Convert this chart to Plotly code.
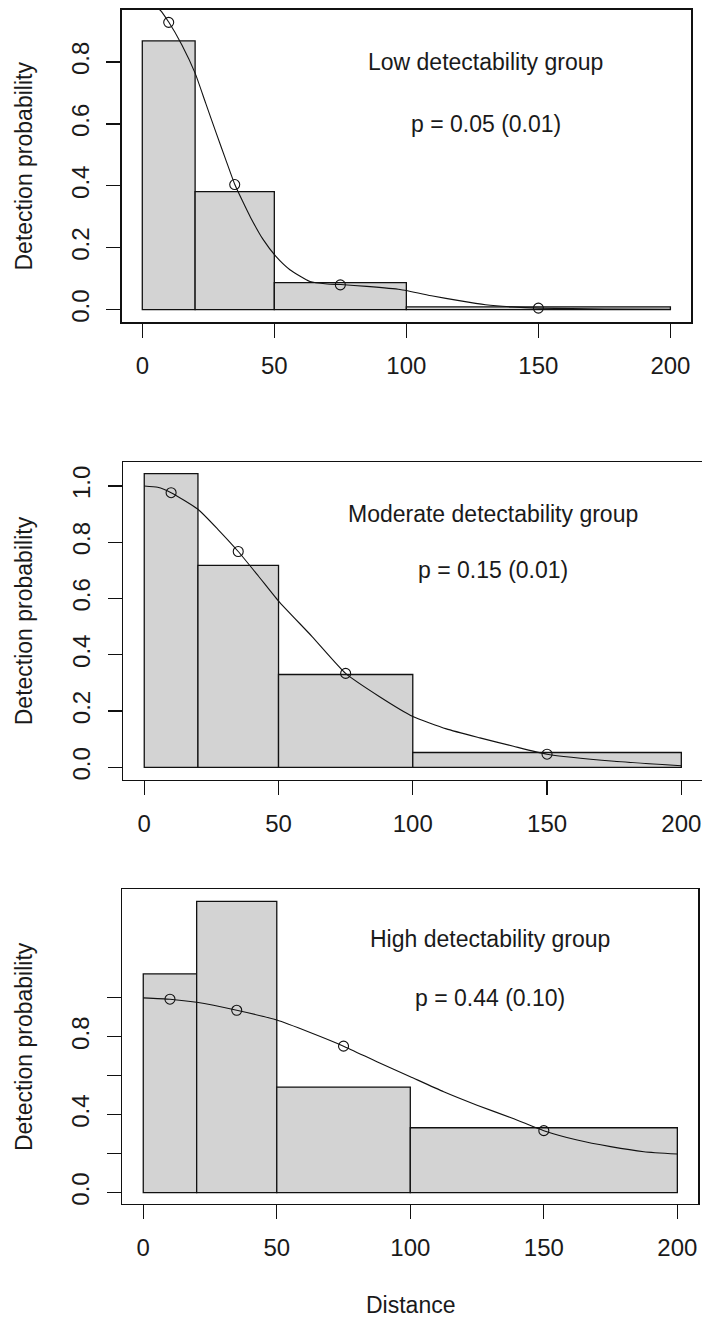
import plotly.graph_objects as go

# ---------------- data ----------------
bin_mid = [10, 35, 75, 150]
bin_width = [20, 30, 50, 100]
point_x = [10, 35, 75, 150]

low_bars = [0.868, 0.381, 0.087, 0.009]
low_points = [0.928, 0.404, 0.080, 0.005]
low_curve_x = [0, 6.7, 10, 15, 20, 24, 28, 31.5, 35, 38, 41, 45.8, 50.6, 55.9, 63.5, 70, 75.2, 85, 97.6, 110, 120, 130, 140, 150, 175, 200]
low_curve_y = [0.995, 0.968, 0.929, 0.855, 0.764, 0.667, 0.57, 0.487, 0.405, 0.35, 0.298, 0.226, 0.172, 0.129, 0.091, 0.083, 0.081, 0.075, 0.065, 0.044, 0.029, 0.016, 0.009, 0.005, 0.002, 0.001]

mod_bars = [1.044, 0.718, 0.330, 0.053]
mod_points = [0.976, 0.767, 0.334, 0.047]
mod_curve_x = [0, 5, 10, 20, 27.5, 35, 42.5, 50, 62.5, 75, 87.5, 100, 112.5, 125, 137.5, 150, 175, 200]
mod_curve_y = [1.0, 0.995, 0.976, 0.917, 0.845, 0.767, 0.68, 0.591, 0.465, 0.334, 0.252, 0.181, 0.137, 0.105, 0.075, 0.047, 0.022, 0.006]

high_bars = [1.123, 1.495, 0.542, 0.333]
high_points = [0.993, 0.936, 0.752, 0.318]
high_curve_x = [0, 10, 20, 35, 50, 62.5, 75, 87.5, 100, 112.5, 125, 137.5, 150, 162.5, 175, 187.5, 200]
high_curve_y = [1.0, 0.993, 0.977, 0.936, 0.886, 0.822, 0.752, 0.672, 0.595, 0.518, 0.449, 0.385, 0.318, 0.270, 0.236, 0.210, 0.198]

x_ticks = [0, 50, 100, 150, 200]
y_ticks_low = [0.0, 0.2, 0.4, 0.6, 0.8]
y_ticks_mod = [0.0, 0.2, 0.4, 0.6, 0.8, 1.0]
y_ticks_high = [0.0, 0.2, 0.4, 0.6, 0.8, 1.0]
y_text_high = ["0.0", "", "0.4", "", "0.8", ""]

titles = ["Low detectability group", "Moderate detectability group", "High detectability group"]
p_texts = ["p = 0.05 (0.01)", "p = 0.15 (0.01)", "p = 0.44 (0.10)"]
title_y = [0.8, 0.9, 1.3]
p_y = [0.6, 0.7, 1.0]
text_x = 130

# ---------------- layout geometry ----------------
W, H = 702, 1325
FONT = "Liberation Sans, Arial, sans-serif"
TXT = "#1a1a1a"

panels = [
    dict(bars=low_bars, pts=low_points, cx=low_curve_x, cy=low_curve_y,
         xdom=[121.7 / W, 691 / W], ydom=[1 - 322.5 / H, 1 - 10 / H],
         xr=[-7.8, 207.8], yr=[-0.040, 0.968], yt=y_ticks_low,
         ytt=["%.1f" % v for v in y_ticks_low], mirror=True),
    dict(bars=mod_bars, pts=mod_points, cx=mod_curve_x, cy=mod_curve_y,
         xdom=[123.3 / W, 1.0], ydom=[1 - 780.7 / H, 1 - 462.7 / H],
         xr=[-7.8, 207.7], yr=[-0.043, 1.085], yt=y_ticks_mod,
         ytt=["%.1f" % v for v in y_ticks_mod], mirror=False),
    dict(bars=high_bars, pts=high_points, cx=high_curve_x, cy=high_curve_y,
         xdom=[122.3 / W, 698.3 / W], ydom=[1 - 1205.7 / H, 1 - 890.7 / H],
         xr=[-7.85, 207.85], yr=[-0.058, 1.557], yt=y_ticks_high,
         ytt=y_text_high, mirror=True),
]

fig = go.Figure()
layout = dict(
    width=W, height=H, autosize=False,
    margin=dict(l=0, r=0, t=0, b=0),
    paper_bgcolor="white", plot_bgcolor="white",
    showlegend=False, bargap=0,
    font=dict(family=FONT, color=TXT),
)
annotations = []

for i, p in enumerate(panels):
    n = "" if i == 0 else str(i + 1)
    xa, ya = "x" + n, "y" + n
    fig.add_trace(go.Bar(
        x=bin_mid, y=p["bars"], width=bin_width, xaxis=xa, yaxis=ya,
        marker=dict(color="#d3d3d3", line=dict(color="#111111", width=1.3)),
        hoverinfo="skip"))
    fig.add_trace(go.Scatter(
        x=p["cx"], y=p["cy"], mode="lines", xaxis=xa, yaxis=ya,
        line=dict(color="#111111", width=1.1, shape="spline", smoothing=0.5)))
    fig.add_trace(go.Scatter(
        x=point_x, y=p["pts"], mode="markers", xaxis=xa, yaxis=ya,
        marker=dict(symbol="circle-open", size=10, color="#111111",
                    line=dict(width=1.1, color="#111111")),
        cliponaxis=False))
    layout["xaxis" + n] = dict(
        domain=p["xdom"], range=p["xr"], anchor=ya,
        tickmode="array", tickvals=x_ticks, ticktext=[str(v) for v in x_ticks],
        ticks="outside", ticklen=14, tickwidth=1.3, tickcolor="#111111",
        ticklabelstandoff=8,
        showline=True, linecolor="#111111", linewidth=1.5, mirror=True,
        showgrid=False, zeroline=False,
        tickfont=dict(size=24, family=FONT, color=TXT), fixedrange=True)
    layout["yaxis" + n] = dict(
        domain=p["ydom"], range=p["yr"], anchor=xa,
        tickmode="array", tickvals=p["yt"], ticktext=p["ytt"],
        ticks="outside", ticklen=14, tickwidth=1.3, tickcolor="#111111",
        ticklabelstandoff=8,
        showline=True, linecolor="#111111", linewidth=1.5, mirror=p["mirror"],
        showgrid=False, zeroline=False, tickangle=-90,
        tickfont=dict(size=24, family=FONT, color=TXT), fixedrange=True)
    annotations.append(dict(x=text_x, y=title_y[i], xref=xa, yref=ya, text=titles[i],
                            xanchor="center", yanchor="middle",
                            showarrow=False, font=dict(size=23, family=FONT, color=TXT)))
    annotations.append(dict(x=text_x, y=p_y[i], xref=xa, yref=ya, text=p_texts[i],
                            xanchor="center", yanchor="middle",
                            showarrow=False, font=dict(size=23, family=FONT, color=TXT)))
    annotations.append(dict(x=23.5 / W, y=(p["ydom"][0] + p["ydom"][1]) / 2,
                            xref="paper", yref="paper", text="Detection probability",
                            xanchor="center", yanchor="middle",
                            textangle=-90, showarrow=False,
                            font=dict(size=23, family=FONT, color=TXT)))

annotations.append(dict(x=410 / W, y=1 - 1307 / H, xref="paper", yref="paper",
                        text="Distance", xanchor="center", yanchor="middle",
                        showarrow=False,
                        font=dict(size=23, family=FONT, color=TXT)))
layout["annotations"] = annotations
fig.update_layout(**layout)
fig.write_html(
    "out.html",
    config={"displayModeBar": False, "staticPlot": True},
    post_script="document.body.style.margin='0';"
                "document.documentElement.style.overflow='hidden';"
                "document.body.style.overflow='hidden';",
)
